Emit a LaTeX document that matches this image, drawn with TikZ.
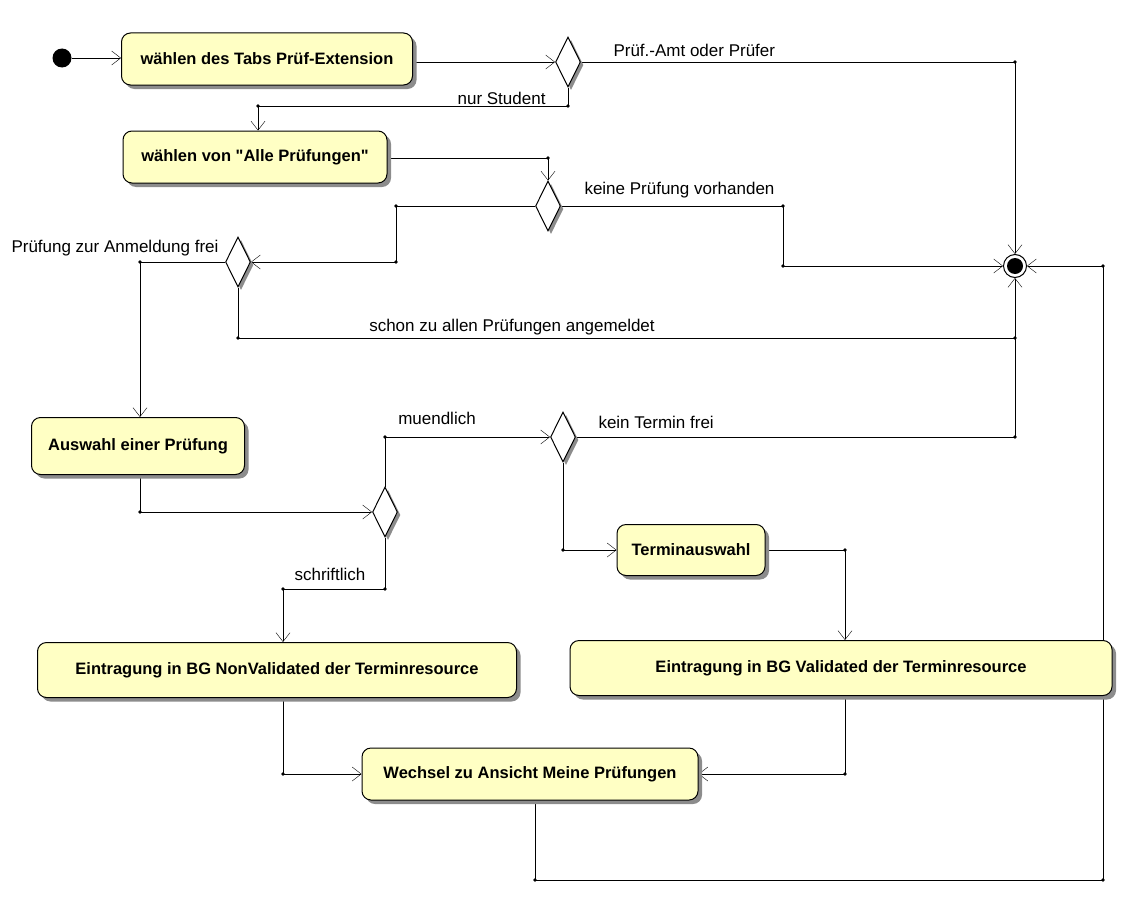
\documentclass[tikz,border=0pt]{standalone}
\usepackage{fontspec}
\setmainfont{Liberation Sans}
\usetikzlibrary{arrows.meta,shapes.geometric,shadows}
\definecolor{actfill}{HTML}{FFFFC4}
\definecolor{shad}{HTML}{8C8C8C}
\pgfdeclarelayer{bg}
\pgfsetlayers{bg,main}
\begin{document}
\begin{tikzpicture}[x=1pt,y=-1pt, line width=1pt,
  act/.style={draw, fill=actfill, rounded corners=9pt, inner sep=0pt,
    font=\fontsize{16.5}{19}\selectfont\bfseries,
    drop shadow={shadow xshift=4pt, shadow yshift=-4pt, fill=shad, opacity=1}},
  dec/.style={diamond, draw, fill=white, inner sep=0pt, minimum width=25pt, minimum height=50pt,
    drop shadow={shadow xshift=3pt, shadow yshift=-3pt, fill=shad, opacity=1}},
  lab/.style={font=\fontsize{17}{20}\selectfont, inner sep=0pt},
  flow/.style={-{Straight Barb[length=9pt,width=14pt]}},
  bendpt/.style={fill=black}
  ]
\useasboundingbox (0,0) rectangle (1123,899);

% nodes
\node[circle, fill=black, minimum size=19pt, inner sep=0pt] (start) at (62,58) {};
\node[act, minimum width=291pt, minimum height=52pt] (b1) at (267,59) {wählen des Tabs Prüf-Extension};
\node[dec] (d1) at (568,62) {};
\node[act, minimum width=264pt, minimum height=52pt] (b2) at (255,157) {wählen von \textquotedbl Alle Prüfungen\textquotedbl};
\node[dec] (d2) at (548,206) {};
\node[dec] (d3) at (238,262) {};
\node[circle, draw, fill=white, minimum size=23pt, inner sep=0pt] (fin) at (1015,266) {};
\fill (fin.center) circle (8pt);
\node[act, minimum width=213pt, minimum height=57pt] (b3) at (138,446) {Auswahl einer Prüfung};
\node[dec] (d4) at (385,512) {};
\node[dec] (d5) at (563,437) {};
\node[act, minimum width=479pt, minimum height=55pt] (b4) at (277,670) {Eintragung in BG NonValidated der Terminresource};
\node[act, minimum width=148pt, minimum height=51pt] (b5) at (691,550) {Terminauswahl};
\node[act, minimum width=542pt, minimum height=55pt] (b6) at (841,668) {Eintragung in BG Validated der Terminresource};
\node[act, minimum width=336pt, minimum height=52pt] (b7) at (530,774) {Wechsel zu Ansicht Meine Prüfungen};

% labels
\node[lab, anchor=west] (l1) at (613,50) {Prüf.-Amt oder Prüfer};
\node[lab, anchor=east] (l2) at (546,98) {nur Student};
\node[lab, anchor=west] (l3) at (584,190) {keine Prüfung vorhanden};
\node[lab, anchor=west] (l4) at (11,248) {Prüfung zur Anmeldung frei};
\node[lab] (l5) at (512,327) {schon zu allen Prüfungen angemeldet};
\node[lab] (l6) at (437,418) {muendlich};
\node[lab, anchor=west] (l7) at (598,422) {kein Termin frei};
\node[lab] (l8) at (330,574) {schriftlich};

% bend coordinates
\coordinate (c1) at (1015,62);
\coordinate (c2a) at (568,106);
\coordinate (c2b) at (258,106);
\coordinate (c3) at (548,158);
\coordinate (c4a) at (783,206);
\coordinate (c4b) at (783,266);
\coordinate (c5a) at (396,206);
\coordinate (c5b) at (396,262);
\coordinate (c6) at (140,262);
\coordinate (c7a) at (238,338);
\coordinate (c7b) at (1015,338);
\coordinate (c8) at (1015,437);
\coordinate (c9a) at (140,512);
\coordinate (c10) at (385,437);
\coordinate (c11a) at (385,589);
\coordinate (c11b) at (283,589);
\coordinate (c12) at (563,550);
\coordinate (c13) at (845,550);
\coordinate (c14) at (845,774);
\coordinate (c15) at (283,774);
\coordinate (c16a) at (535,880);
\coordinate (c16b) at (1103,880);
\coordinate (c16c) at (1103,266);

\begin{pgfonlayer}{bg}
\draw[flow] (start) -- (b1.west |- start);
\draw[flow] (b1.east |- d1) -- (d1.west);
\draw[flow] (d1.east) -- (c1) -- (fin.north);
\draw[flow] (d1.south) -- (c2a) -- (c2b) -- (c2b |- b2.north);
\draw[flow] (b2.east |- c3) -- (c3) -- (d2.north);
\draw[flow] (d2.east) -- (c4a) -- (c4b) -- (fin.west);
\draw[flow] (d2.west) -- (c5a) -- (c5b) -- (d3.east);
\draw[flow] (d3.west) -- (c6) -- (c6 |- b3.north);
\draw (d3.south) -- (c7a) -- (c7b);
\draw[flow] (d5.east) -- (c8) -- (fin.south);
\draw[flow] (c9a |- b3.south) -- (c9a) -- (d4.west);
\draw[flow] (d4.north) -- (c10) -- (d5.west);
\draw[flow] (d4.south) -- (c11a) -- (c11b) -- (c11b |- b4.north);
\draw[flow] (d5.south) -- (c12) -- (b5.west);
\draw[flow] (b5.east) -- (c13) -- (c13 |- b6.north);
\draw[flow] (c14 |- b6.south) -- (c14) -- (b7.east);
\draw[flow] (c15 |- b4.south) -- (c15) -- (b7.west);
\draw[flow] (c16a |- b7.south) -- (c16a) -- (c16b) -- (c16c) -- (fin.east);
\foreach \c in {c1,c2a,c2b,c3,c4a,c4b,c5a,c5b,c6,c7a,c7b,c8,c9a,c10,c11a,c11b,c12,c13,c14,c15,c16a,c16b,c16c}
  \fill[bendpt] (\c) circle (1.8pt);
\end{pgfonlayer}
\end{tikzpicture}
\end{document}
